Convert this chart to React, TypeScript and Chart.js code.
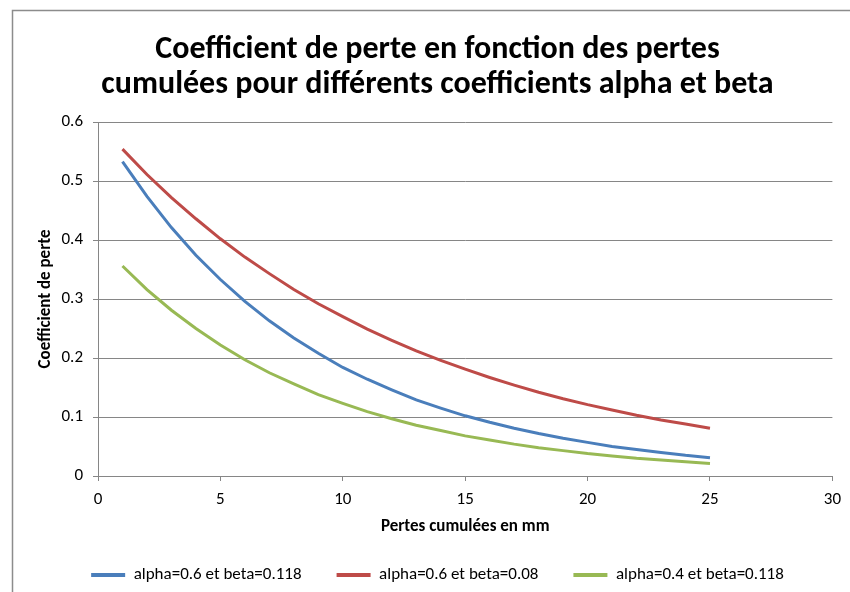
import React, { useEffect, useRef } from "react";
import { Chart, registerables } from "chart.js";

Chart.register(...registerables);

const xValues = [1, 2, 3, 4, 5, 6, 7, 8, 9, 10, 11, 12, 13, 14, 15, 16, 17, 18, 19, 20, 21, 22, 23, 24, 25];
const seriesA = [0.533, 0.474, 0.421, 0.374, 0.333, 0.296, 0.263, 0.234, 0.208, 0.184, 0.164, 0.146, 0.129, 0.115, 0.102, 0.091, 0.081, 0.072, 0.064, 0.057, 0.050, 0.045, 0.040, 0.035, 0.031];
const seriesB = [0.554, 0.511, 0.472, 0.436, 0.402, 0.371, 0.343, 0.316, 0.292, 0.270, 0.249, 0.230, 0.212, 0.196, 0.181, 0.167, 0.154, 0.142, 0.131, 0.121, 0.112, 0.103, 0.095, 0.088, 0.081];
const seriesC = [0.356, 0.316, 0.281, 0.250, 0.222, 0.197, 0.175, 0.156, 0.138, 0.123, 0.109, 0.097, 0.086, 0.077, 0.068, 0.061, 0.054, 0.048, 0.043, 0.038, 0.034, 0.030, 0.027, 0.024, 0.021];
const seriesNames = ["alpha=0.6 et beta=0.118", "alpha=0.6 et beta=0.08", "alpha=0.4 et beta=0.118"];
const seriesColors = ["#4a7ebb", "#be4b48", "#98b954"];
const titleLines = ["Coefficient de perte en fonction des pertes", "cumulées pour différents coefficients alpha et beta"];
const xTitle = "Pertes cumulées en mm";
const yTitle = "Coefficient de perte";

const FONT = "Carlito, 'Liberation Sans Narrow', 'DejaVu Sans Condensed', sans-serif";

export default function App() {
  const ref = useRef<HTMLCanvasElement | null>(null);
  useEffect(() => {
    if (!ref.current) return;
    const all = [seriesA, seriesB, seriesC];
    const bgPlugin = {
      id: "bgBorder",
      beforeDraw(chart: any) {
        const ctx = chart.ctx;
        ctx.save();
        ctx.fillStyle = "#ffffff";
        ctx.fillRect(0, 0, chart.width, chart.height);
        ctx.strokeStyle = "#8c8c8c";
        ctx.lineWidth = 1.5;
        ctx.beginPath();
        ctx.moveTo(12.5, chart.height + 5);
        ctx.lineTo(12.5, 10.5);
        ctx.lineTo(chart.width + 5, 10.5);
        ctx.stroke();
        ctx.restore();
      },
      afterLayout(chart: any) {
        const l = chart.legend;
        if (l) {
          l.left += 15;
          l.right += 15;
          l.top -= 5.5;
          l.bottom -= 5.5;
        }
        const t = chart.titleBlock;
        if (t) {
          t.left += 15;
          t.right += 15;
        }
      },
    };
    const chart = new Chart(ref.current, {
      type: "line",
      data: {
        datasets: all.map((s, i) => ({
          label: seriesNames[i],
          data: xValues.map((x, j) => ({ x, y: s[j] })),
          borderColor: seriesColors[i],
          backgroundColor: seriesColors[i],
          borderWidth: 3,
          pointRadius: 0,
          tension: 0,
          fill: false,
        })),
      },
      options: {
        responsive: false,
        animation: false,
        devicePixelRatio: 1,
        layout: { padding: { top: 10, right: 17, left: 12, bottom: 0 } },
        plugins: {
          title: {
            display: true,
            text: titleLines,
            color: "#000",
            font: { family: FONT, size: 32, weight: "bold", lineHeight: 1.1 },
            padding: { top: 22, bottom: 19.6 },
          },
          legend: {
            position: "bottom",
            maxHeight: 55,
            labels: {
              color: "#000",
              font: { family: FONT, size: 17 },
              boxWidth: 34,
              boxHeight: 4,
              padding: 35,
              generateLabels: (c: any) =>
                (Chart as any).defaults.plugins.legend.labels
                  .generateLabels(c)
                  .map((it: any) => ({ ...it, lineWidth: 0 })),
            },
          },
          tooltip: { enabled: false },
        },
        scales: {
          x: {
            type: "linear",
            min: 0,
            max: 30,
            afterFit: (s: any) => {
              s.height = 61;
            },
            ticks: { stepSize: 5, color: "#000", font: { family: FONT, size: 17 }, padding: 9 },
            grid: { drawOnChartArea: false, drawTicks: true, tickLength: 5, color: "#868686" },
            border: { color: "#868686", width: 1 },
            title: {
              display: true,
              text: xTitle,
              color: "#000",
              font: { family: FONT, size: 17, weight: "bold" },
              padding: { top: 6, bottom: 0 },
            },
          },
          y: {
            min: 0,
            max: 0.6,
            afterFit: (s: any) => {
              s.width = 86;
            },
            ticks: {
              stepSize: 0.1,
              color: "#000",
              font: { family: FONT, size: 17 },
              padding: 10,
              callback: (v: any) => String(Number(Number(v).toFixed(1))),
            },
            grid: { drawOnChartArea: true, drawTicks: true, tickLength: 5, color: "#868686" },
            border: { color: "#868686", width: 1 },
            title: {
              display: true,
              text: yTitle,
              color: "#000",
              font: { family: FONT, size: 17, weight: "bold" },
              padding: { top: 23.8, bottom: 0 },
            },
          },
        },
      },
      plugins: [bgPlugin],
    } as any);
    return () => chart.destroy();
  }, []);
  return (
    <div style={{ position: "absolute", left: 0, top: 0, width: 850, height: 592 }}>
      <canvas ref={ref} width={850} height={592} style={{ display: "block", width: 850, height: 592 }} />
    </div>
  );
}
